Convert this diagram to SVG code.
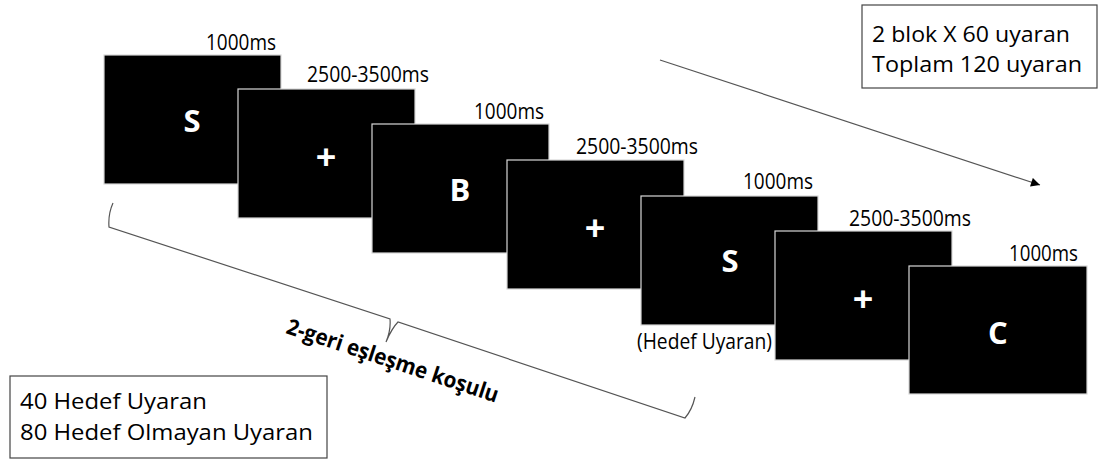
<svg xmlns="http://www.w3.org/2000/svg" width="1100" height="464" viewBox="0 0 1100 464">
<defs>
<style>
.scr{fill:#000;stroke:#d8d8d8;stroke-width:1.2}
.big{font-family:"Open Sans","Liberation Sans",sans-serif;font-weight:700;font-size:31px;fill:#fff;text-anchor:middle}
.plus{font-size:36px}
.lbl{font-family:"Open Sans","Liberation Sans",sans-serif;font-size:21px;fill:#000}
.end{text-anchor:end}
.box{fill:#fff;stroke:#444;stroke-width:1.2}
.cond{font-family:"Open Sans","Liberation Sans",sans-serif;font-weight:700;font-size:22px;fill:#000}
.ln{fill:none;stroke:#555;stroke-width:1.2}
</style>
<marker id="ah" viewBox="0 0 10 10" refX="10" refY="5" markerWidth="11" markerHeight="9" markerUnits="userSpaceOnUse" orient="auto">
<path d="M0,0 L10,5 L0,10 Z" fill="#000"/>
</marker>
</defs>
<rect width="1100" height="464" fill="#fff"/>

<g id="screen1">
<rect class="scr" x="104" y="55" width="177" height="129"/>
<text class="big" x="192" y="132">S</text>
<text class="lbl end" x="276" y="50" textLength="70" lengthAdjust="spacingAndGlyphs">1000ms</text>
</g>
<g id="screen2">
<rect class="scr" x="238" y="89" width="177" height="129"/>
<text class="big plus" x="326" y="170">+</text>
<text class="lbl" x="307" y="82" textLength="122" lengthAdjust="spacingAndGlyphs">2500-3500ms</text>
</g>
<g id="screen3">
<rect class="scr" x="372" y="124" width="177" height="129"/>
<text class="big" x="460" y="201">B</text>
<text class="lbl end" x="544" y="119" textLength="70" lengthAdjust="spacingAndGlyphs">1000ms</text>
</g>
<g id="screen4">
<rect class="scr" x="507" y="160" width="177" height="129"/>
<text class="big plus" x="595" y="241">+</text>
<text class="lbl" x="576" y="154" textLength="122" lengthAdjust="spacingAndGlyphs">2500-3500ms</text>
</g>
<g id="screen5">
<rect class="scr" x="641" y="196" width="177" height="129"/>
<text class="big" x="730" y="272">S</text>
<text class="lbl end" x="813" y="189" textLength="70" lengthAdjust="spacingAndGlyphs">1000ms</text>
<text class="lbl" x="637" y="349" textLength="135" lengthAdjust="spacingAndGlyphs">(Hedef Uyaran)</text>
</g>
<g id="screen6">
<rect class="scr" x="775" y="231" width="177" height="129"/>
<text class="big plus" x="863" y="312">+</text>
<text class="lbl" x="849" y="226" textLength="122" lengthAdjust="spacingAndGlyphs">2500-3500ms</text>
</g>
<g id="screen7">
<rect class="scr" x="909" y="266" width="178" height="128"/>
<text class="big" x="998" y="344">C</text>
<text class="lbl end" x="1078" y="261" textLength="69" lengthAdjust="spacingAndGlyphs">1000ms</text>
</g>

<g id="blocks-box">
<rect class="box" x="862" y="5" width="235" height="83"/>
<text class="lbl" x="872" y="42" textLength="198" lengthAdjust="spacingAndGlyphs">2 blok X 60 uyaran</text>
<text class="lbl" x="872" y="72" textLength="210" lengthAdjust="spacingAndGlyphs">Toplam 120 uyaran</text>
</g>

<g id="target-box">
<rect class="box" x="10" y="376" width="317" height="82"/>
<text class="lbl" x="20" y="409" textLength="187" lengthAdjust="spacingAndGlyphs">40 Hedef Uyaran</text>
<text class="lbl" x="20" y="440" textLength="293" lengthAdjust="spacingAndGlyphs">80 Hedef Olmayan Uyaran</text>
</g>

<g id="connectors">
<line class="ln" x1="660" y1="60" x2="1040" y2="185" stroke="#444" marker-end="url(#ah)"/>
<path class="ln" d="M113,203 Q108,214 109,227 L390,319 Q391,330 386,342 Q392,328 398,322 L685,418 Q692,410 695,397"/>
</g>

<g id="condition-label">
<text class="cond" transform="translate(285,333) rotate(18.3)" textLength="222" lengthAdjust="spacingAndGlyphs">2-geri eşleşme koşulu</text>
</g>
</svg>
